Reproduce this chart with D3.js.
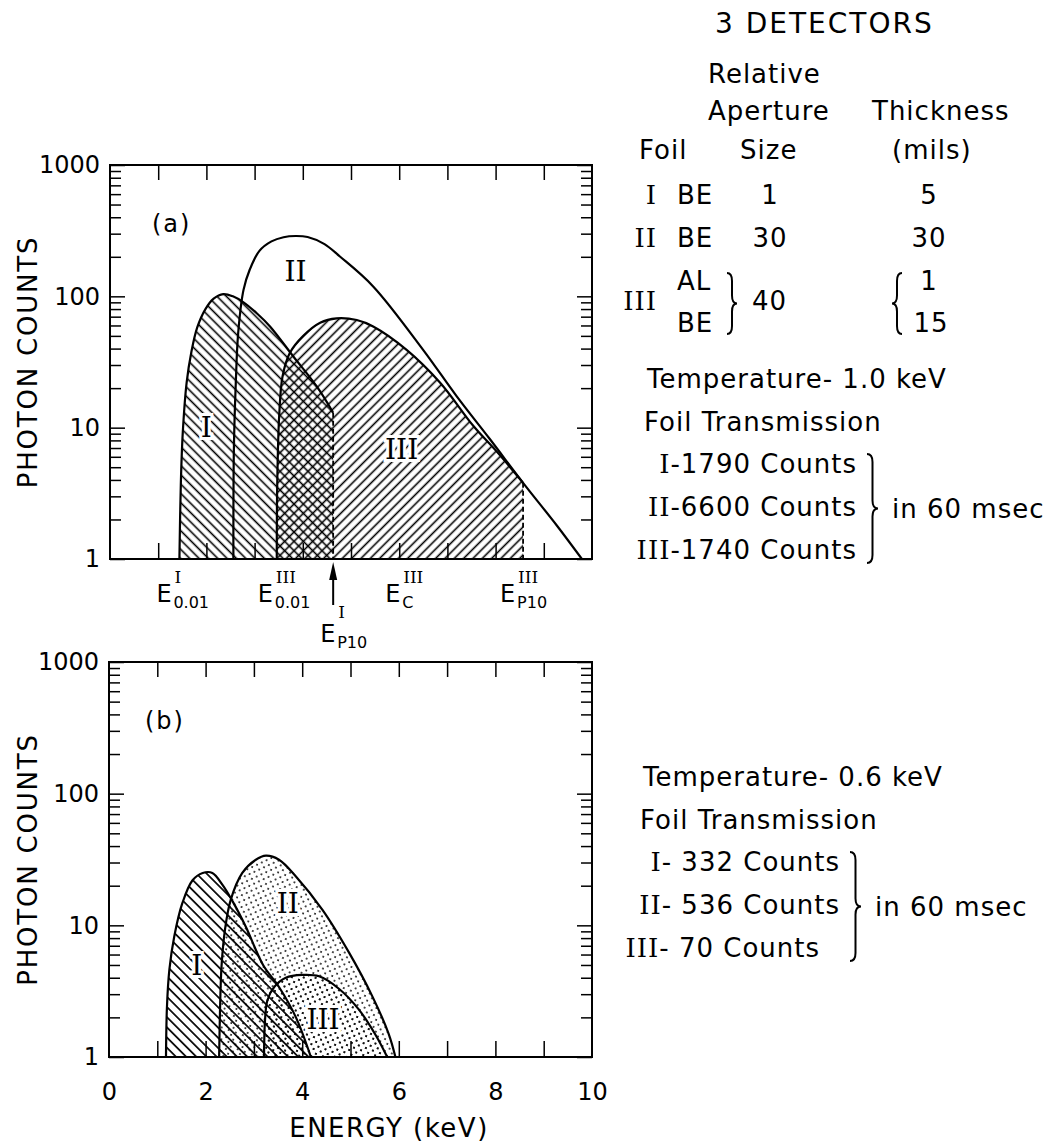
<!DOCTYPE html>
<html>
<head>
<meta charset="utf-8">
<script src="https://cdn.jsdelivr.net/npm/d3@7"></script>
<style>
  body { margin: 0; background: #fff; }
  text { font-family: "DejaVu Sans", sans-serif; fill: #000; }
  .roman { font-family: "DejaVu Serif", serif; }
</style>
</head>
<body>
<div id="chart"></div>
<script>
// Axes
var energyTicks = [1, 2, 3, 4, 5, 6, 7, 8, 9];
var energyLabels = [0, 2, 4, 6, 8, 10];
var countDecades = [1, 10, 100, 1000];

// (a) Temperature 1.0 keV : [keV, photon counts]
var hotFoilI = [[1.44, 1], [1.47, 3.8], [1.51, 9.2], [1.59, 22], [1.69, 38], [1.81, 58], [1.98, 80], [2.15, 96], [2.35, 104],
  [2.55, 100], [2.77, 90], [3.05, 74], [3.32, 59], [3.80, 35], [4.29, 20.6], [4.63, 13]];
var hotFoilII = [[2.56, 1], [2.57, 6.8], [2.61, 22], [2.66, 53], [2.77, 112], [2.90, 160], [3.10, 222], [3.35, 262],
  [3.60, 282], [3.85, 288], [4.10, 283], [4.45, 250], [4.77, 201], [5.46, 119], [6.50, 39], [7.19, 17.4], [7.88, 8.2],
  [8.57, 3.8], [9.27, 1.8], [9.79, 1]];
var hotFoilIII = [[3.46, 1], [3.47, 3.8], [3.51, 12.3], [3.58, 24.6], [3.73, 37], [4.01, 50], [4.36, 63], [4.70, 68],
  [5.12, 66], [5.46, 59], [6.16, 39], [6.85, 22], [7.54, 10.3], [8.02, 6.6], [8.57, 3.8]];

// (b) Temperature 0.6 keV
var coolFoilI = [[1.18, 1], [1.20, 2.4], [1.25, 4.6], [1.35, 8.2], [1.52, 14.8], [1.73, 22], [1.94, 25], [2.14, 25],
  [2.35, 20.3], [2.56, 15.2], [2.83, 9.8], [3.19, 5.0], [3.52, 3.4], [3.87, 2.0], [4.18, 1]];
var coolFoilII = [[2.28, 1], [2.30, 2.4], [2.33, 4.9], [2.40, 9.2], [2.52, 15.6], [2.76, 25], [3.04, 31.5], [3.25, 33.8],
  [3.52, 31.5], [3.87, 23.5], [4.42, 13.1], [4.97, 6.2], [5.45, 2.9], [5.79, 1.5], [5.93, 1]];
var coolFoilIII = [[3.21, 1], [3.23, 1.9], [3.28, 2.7], [3.42, 3.4], [3.66, 4.0], [4.00, 4.2], [4.35, 4.1], [4.76, 3.3],
  [5.17, 2.3], [5.52, 1.47], [5.76, 1]];

// Energy markers of panel (a)
var markerNames = [['I', '0.01'], ['III', '0.01'], ['III', 'C'], ['III', 'P10'], ['I', 'P10']];
var markerEnergies = [1.44, 3.46, 6.0, 8.57, 4.63];

// Detector table
var foils = ['I', 'II', 'III'];
var foilMaterials = [['BE'], ['BE'], ['AL', 'BE']];
var apertureSizes = ['1', '30', '40'];
var foilThickness = [['5'], ['30'], ['1', '15']];
var hotCounts = ['1790', '6600', '1740'];
var coolCounts = ['332', '536', '70'];

var svg = d3.select('#chart').append('svg')
  .attr('width', 1053)
  .attr('height', 1144);
var defs = svg.append('defs');

// Fill patterns
function addHatch(id, size, angle, width) {
  var p = defs.append('pattern')
    .attr('id', id)
    .attr('patternUnits', 'userSpaceOnUse')
    .attr('width', size).attr('height', size)
    .attr('patternTransform', 'rotate(' + angle + ')');
  p.append('line')
    .attr('x1', 0).attr('x2', size)
    .attr('y1', size / 2).attr('y2', size / 2)
    .attr('stroke', '#000').attr('stroke-width', width);
}

function addStipple(id, size, r) {
  var p = defs.append('pattern')
    .attr('id', id)
    .attr('patternUnits', 'userSpaceOnUse')
    .attr('width', size).attr('height', size)
    .attr('patternTransform', 'rotate(20)');
  p.append('circle').attr('cx', 1).attr('cy', 1).attr('r', r).attr('fill', '#000');
  p.append('circle').attr('cx', 1 + size / 2).attr('cy', 1 + size / 2).attr('r', r).attr('fill', '#000');
}

addHatch('back-a', 6.6, 45, 1.6);
addHatch('fwd-a', 6.6, -45, 1.6);
addHatch('back-b', 7.2, 45, 1.7);
addStipple('dots-b', 7.5, 0.95);

function drawPanel(opts) {
  var g = svg.append('g');
  var x = d3.scaleLinear().domain([0, 10]).range(opts.xRange);
  var y = d3.scaleLog().domain([1, 1000]).range(opts.yRange);
  var x0 = opts.xRange[0], x1 = opts.xRange[1], yTop = opts.yRange[1], yBot = opts.yRange[0];

  // keep the smoothed curves inside the frame
  defs.append('clipPath').attr('id', 'clip-' + opts.id)
    .append('rect')
    .attr('x', x0).attr('y', yTop)
    .attr('width', x1 - x0).attr('height', yBot - yTop);
  var plot = g.append('g').attr('clip-path', 'url(#clip-' + opts.id + ')');

  var curve = d3.curveCatmullRom.alpha(0.5);
  var area = d3.area()
    .x(function(d) { return x(d[0]); })
    .y0(y(1))
    .y1(function(d) { return y(d[1]); })
    .curve(curve);
  var line = d3.line()
    .x(function(d) { return x(d[0]); })
    .y(function(d) { return y(d[1]); })
    .curve(curve);

  opts.series.forEach(function(s) {
    if (!s.fill) return;
    plot.append('path').datum(s.values)
      .attr('d', area)
      .attr('fill', 'url(#' + s.fill + ')');
  });
  opts.series.forEach(function(s) {
    plot.append('path').datum(s.values)
      .attr('d', line)
      .attr('fill', 'none')
      .attr('stroke', '#000')
      .attr('stroke-width', 2.2);
  });

  // dashed cut-offs
  (opts.cuts || []).forEach(function(c) {
    plot.append('line')
      .attr('x1', x(c[0])).attr('x2', x(c[0]))
      .attr('y1', y(c[1])).attr('y2', y(1))
      .attr('stroke', '#000').attr('stroke-width', 1.8)
      .attr('stroke-dasharray', '5,3');
  });

  // axes
  var left = g.append('g')
    .attr('transform', 'translate(' + x0 + ',0)')
    .call(d3.axisLeft(y).tickSize(-11).tickSizeOuter(0).tickPadding(10)
      .tickFormat(function(d) { return countDecades.indexOf(d) >= 0 ? d : ''; }));
  left.selectAll('.tick line').attr('x2', function(d) { return countDecades.indexOf(d) >= 0 ? 15 : 11; });
  left.selectAll('text').attr('font-size', 24).attr('font-family', '"DejaVu Sans", sans-serif');

  var right = g.append('g')
    .attr('transform', 'translate(' + x1 + ',0)')
    .call(d3.axisRight(y).tickSize(-11).tickSizeOuter(0).tickFormat(''));
  right.selectAll('.tick line').attr('x2', function(d) { return countDecades.indexOf(d) >= 0 ? -15 : -11; });

  g.append('g')
    .attr('transform', 'translate(0,' + yTop + ')')
    .call(d3.axisTop(x).tickValues(energyTicks).tickSize(-15).tickSizeOuter(0).tickFormat(''));

  var bottom = g.append('g')
    .attr('transform', 'translate(0,' + yBot + ')')
    .call(d3.axisBottom(x).tickValues(opts.showEnergy ? d3.range(0, 11) : energyTicks)
      .tickSize(-16).tickSizeOuter(0).tickPadding(26)
      .tickFormat(function(d) { return opts.showEnergy && energyLabels.indexOf(d) >= 0 ? d : ''; }));
  bottom.selectAll('.tick line').filter(function(d) { return d === 0 || d === 10; }).remove();
  bottom.selectAll('text').attr('font-size', 24).attr('font-family', '"DejaVu Sans", sans-serif');

  g.selectAll('.domain').remove();
  g.selectAll('.tick line').attr('stroke', '#000').attr('stroke-width', 1.5);

  // frame
  g.append('rect')
    .attr('x', x0).attr('y', yTop)
    .attr('width', x1 - x0).attr('height', yBot - yTop)
    .attr('fill', 'none').attr('stroke', '#000').attr('stroke-width', 2);

  // panel letter
  g.append('text')
    .attr('x', x0 + opts.letterDx).attr('y', yTop + 67)
    .attr('font-size', 24).attr('letter-spacing', 2)
    .text(opts.letter);

  // curve numerals
  opts.series.forEach(function(s, i) {
    g.append('text')
      .attr('class', 'roman')
      .attr('x', x(s.at[0])).attr('y', y(s.at[1]))
      .attr('text-anchor', 'middle')
      .attr('font-size', 28)
      .attr('stroke', '#fff').attr('stroke-width', 6).attr('paint-order', 'stroke')
      .text(foils[i]);
  });

  // y title
  g.append('text')
    .attr('transform', 'translate(37,' + (yTop + yBot) / 2 + ') rotate(-90)')
    .attr('text-anchor', 'middle')
    .attr('font-size', 26).attr('letter-spacing', 1.8)
    .text('PHOTON COUNTS');

  return {g: g, x: x, y: y};
}

var panelA = drawPanel({
  id: 'a', xRange: [110, 592], yRange: [559, 165], letter: '(a)', letterDx: 42,
  series: [
    {values: hotFoilI, fill: 'back-a', at: [2.0, 8.5]},
    {values: hotFoilII, fill: null, at: [3.85, 130]},
    {values: hotFoilIII, fill: 'fwd-a', at: [6.05, 5.8]}
  ],
  cuts: [[hotFoilI[hotFoilI.length - 1][0], hotFoilI[hotFoilI.length - 1][1]],
    [hotFoilIII[hotFoilIII.length - 1][0], hotFoilIII[hotFoilIII.length - 1][1]]]
});

var panelB = drawPanel({
  id: 'b', xRange: [109, 592], yRange: [1057, 662], letter: '(b)', letterDx: 36, showEnergy: true,
  series: [
    {values: coolFoilI, fill: 'back-b', at: [1.82, 4.2]},
    {values: coolFoilII, fill: 'dots-b', at: [3.7, 12.5]},
    {values: coolFoilIII, fill: 'dots-b', at: [4.43, 1.64]}
  ]
});

// energy markers under panel (a)
var markG = svg.append('g');
markerNames.forEach(function(m, i) {
  var cx = panelA.x(markerEnergies[i]);
  var low = m[1] === 'P10' && m[0] === 'I';
  var ex = low ? cx - 13 : cx + [-23, -19, -14, -23][i];
  var base = low ? 642 : 602;
  markG.append('text').attr('x', ex).attr('y', base).attr('font-size', 24).text('E');
  markG.append('text').attr('class', 'roman')
    .attr('x', ex + 18).attr('y', base - (low ? 24 : 19)).attr('font-size', 17).text(m[0]);
  markG.append('text')
    .attr('x', ex + 17).attr('y', base + 6).attr('font-size', 16).text(m[1]);
});
// arrow at E_P10 of foil I
var ax = panelA.x(markerEnergies[4]);
markG.append('line').attr('x1', ax).attr('x2', ax).attr('y1', 575).attr('y2', 605)
  .attr('stroke', '#000').attr('stroke-width', 2);
markG.append('path')
  .attr('d', 'M' + ax + ',562L' + (ax - 4) + ',580L' + (ax + 4) + ',580Z')
  .attr('fill', '#000');

// x title
svg.append('text')
  .attr('x', 389).attr('y', 1137)
  .attr('text-anchor', 'middle')
  .attr('font-size', 26).attr('letter-spacing', 1.5)
  .text('ENERGY (keV)');

// Right side notes
var notes = svg.append('g').attr('font-size', 26).attr('letter-spacing', 1);

function note(x, y, parts, anchor) {
  var t = notes.append('text').attr('x', x).attr('y', y).attr('text-anchor', anchor || 'start');
  parts.forEach(function(p) {
    t.append('tspan').attr('class', p[1] ? 'roman' : null).text(p[0]);
  });
  return t;
}

function brace(x, y0, y1, w, dir) {
  var ym = (y0 + y1) / 2, r = Math.min(8, (y1 - y0) / 6);
  var xm = x + dir * w / 2, xt = x + dir * w;
  var p = d3.path();
  p.moveTo(x, y0);
  p.quadraticCurveTo(xm, y0, xm, y0 + r);
  p.lineTo(xm, ym - r);
  p.quadraticCurveTo(xm, ym, xt, ym);
  p.quadraticCurveTo(xm, ym, xm, ym + r);
  p.lineTo(xm, y1 - r);
  p.quadraticCurveTo(xm, y1, x, y1);
  notes.append('path').attr('d', p.toString())
    .attr('fill', 'none').attr('stroke', '#000').attr('stroke-width', 2);
}

note(715, 33, [['3 DETECTORS']]).attr('font-size', 28).attr('letter-spacing', 2);
note(708, 83, [['Relative']]);
note(708, 120, [['Aperture']]);
note(872, 120, [['Thickness']]);
note(639, 159, [['Foil']]);
note(740, 159, [['Size']]);
note(892, 159, [['(mils)']]);

var rowBase = [204, 247, 310];
foils.forEach(function(f, i) {
  note(657, rowBase[i], [[f, true]], 'end');
  var mats = foilMaterials[i], thick = foilThickness[i];
  if (mats.length === 1) {
    note(677, rowBase[i], [[mats[0]]]);
    note(770, rowBase[i], [[apertureSizes[i]]], 'middle');
    note(929, rowBase[i], [[thick[0]]], 'middle');
  } else {
    note(677, 290, [[mats[0]]]);
    note(677, 332, [[mats[1]]]);
    brace(727, 273, 334, 10, 1);
    note(752, 310, [[apertureSizes[i]]]);
    brace(902, 273, 334, 10, -1);
    note(929, 290, [[thick[0]]], 'middle');
    note(931, 332, [[thick[1]]], 'middle');
  }
});

// Foil transmission for both temperatures
function transmission(temp, counts, top, endX, gap) {
  note(top.x, top.y, [['Temperature- ' + temp + ' keV']]);
  note(top.x - 3, top.y + 43, [['Foil Transmission']]);
  counts.forEach(function(c, i) {
    note(endX[i], top.y + 85 + i * 43, [[foils[i], true], [gap + c + ' Counts']], 'end');
  });
  brace(endX[0] + 10, top.y + 66, top.y + 175, 11, 1);
  note(endX[0] + 35, top.y + 130, [['in 60 msec']]);
}

transmission('1.0', hotCounts, {x: 647, y: 388}, [857, 857, 857], '-');
transmission('0.6', coolCounts, {x: 643, y: 786}, [840, 840, 820], '- ');
</script>
</body>
</html>
